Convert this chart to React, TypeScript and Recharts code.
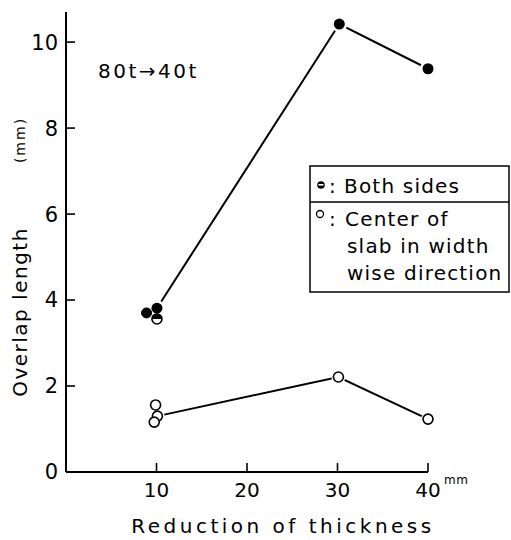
import React from "react";
import { ScatterChart, Scatter, XAxis, YAxis } from "recharts";

const xTicks = [10, 20, 30, 40];
const yTicks = [0, 2, 4, 6, 8, 10];

const bothSidesLine = [
  { x: 10.05, y: 3.81 },
  { x: 30.2, y: 10.42 },
  { x: 40, y: 9.38 },
];
const bothSidesExtra = [{ x: 8.9, y: 3.7 }];
const bothSidesHalf = [{ x: 10.05, y: 3.56 }];

const centerLine = [
  { x: 10.1, y: 1.3 },
  { x: 30.1, y: 2.21 },
  { x: 40, y: 1.23 },
];
const centerExtra = [
  { x: 9.9, y: 1.56 },
  { x: 9.75, y: 1.16 },
];

const FONT = "'DejaVu Sans', sans-serif";

const FilledDot = (p: any) => (
  <circle cx={p.cx} cy={p.cy} r={5} fill="#000" stroke="#000" strokeWidth={1} />
);
const FilledRingDot = (p: any) => (
  <g>
    <circle cx={p.cx} cy={p.cy} r={8} fill="#fff" />
    <circle cx={p.cx} cy={p.cy} r={5.5} fill="#000" />
  </g>
);
const OpenDot = (p: any) => (
  <circle cx={p.cx} cy={p.cy} r={5} fill="#fff" stroke="#000" strokeWidth={1.6} />
);
const OpenRingDot = (p: any) => (
  <g>
    <circle cx={p.cx} cy={p.cy} r={7} fill="#fff" />
    <circle cx={p.cx} cy={p.cy} r={5} fill="#fff" stroke="#000" strokeWidth={1.6} />
  </g>
);
const HalfDot = (p: any) => (
  <g>
    <circle cx={p.cx} cy={p.cy} r={5} fill="#fff" stroke="#000" strokeWidth={1.6} />
    <path
      d={`M ${p.cx - 5} ${p.cy} A 5 5 0 0 1 ${p.cx + 5} ${p.cy} Z`}
      fill="#000"
    />
  </g>
);

export default function App() {
  return (
    <div style={{ position: "absolute", left: 0, top: 0, width: 511, height: 540, background: "#fff" }}>
      <ScatterChart
        width={511}
        height={540}
        margin={{ top: 12, right: 83, bottom: 0, left: 0 }}
      >
        <XAxis
          type="number"
          dataKey="x"
          domain={[0, 40]}
          ticks={xTicks}
          tickSize={-9}
          tickMargin={20}
          height={68}
          axisLine={{ stroke: "#000", strokeWidth: 2 }}
          tickLine={{ stroke: "#000", strokeWidth: 1.6 }}
          tick={{ fill: "#000", fontSize: 20, fontFamily: FONT }}
        />
        <YAxis
          type="number"
          dataKey="y"
          domain={[0, 10.7]}
          ticks={yTicks}
          tickSize={-9}
          tickMargin={17}
          width={66}
          axisLine={{ stroke: "#000", strokeWidth: 2 }}
          tickLine={{ stroke: "#000", strokeWidth: 1.6 }}
          tick={{ fill: "#000", fontSize: 21, fontFamily: FONT }}
        />
        <Scatter
          data={bothSidesLine}
          line={{ stroke: "#000", strokeWidth: 2 }}
          shape={FilledRingDot}
          isAnimationActive={false}
        />
        <Scatter data={bothSidesExtra} shape={FilledDot} isAnimationActive={false} />
        <Scatter data={bothSidesHalf} shape={HalfDot} isAnimationActive={false} />
        <Scatter
          data={centerLine}
          line={{ stroke: "#000", strokeWidth: 2 }}
          shape={OpenRingDot}
          isAnimationActive={false}
        />
        <Scatter data={centerExtra} shape={OpenDot} isAnimationActive={false} />
      </ScatterChart>
      <svg
        width={511}
        height={540}
        style={{ position: "absolute", left: 0, top: 0, pointerEvents: "none" }}
        fontFamily={FONT}
      >
        <text x={98} y={78} fontSize={20} letterSpacing={2.5} fill="#000">
          80t→40t
        </text>
        <text
          transform="translate(25,140) rotate(-90)"
          textAnchor="middle"
          fontSize={14}
          letterSpacing={2}
          fill="#000"
        >
          (mm)
        </text>
        <text
          transform="translate(27,312) rotate(-90)"
          textAnchor="middle"
          fontSize={20}
          letterSpacing={1.5}
          fill="#000"
        >
          Overlap length
        </text>
        <text x={283} y={533} textAnchor="middle" fontSize={20} letterSpacing={3.5} fill="#000">
          Reduction of thickness
        </text>
        <text x={444} y={484} fontSize={12} letterSpacing={0.5} fill="#000">
          mm
        </text>
        <rect x={310} y={166} width={199} height={126} fill="#fff" stroke="#000" strokeWidth={1.5} />
        <line x1={310} y1={202} x2={509} y2={202} stroke="#000" strokeWidth={1.5} />
        <circle cx={321} cy={185} r={3.8} fill="#000" />
        <rect x={318.5} y={184} width={5} height={1.6} fill="#fff" />
        <text x={329} y={193} fontSize={20} fill="#000">:</text>
        <text x={344} y={193} fontSize={20} letterSpacing={1.2} fill="#000">Both sides</text>
        <circle cx={320} cy={214} r={3.5} fill="#fff" stroke="#000" strokeWidth={1.3} />
        <text x={329} y={226} fontSize={20} fill="#000">:</text>
        <text x={345} y={226} fontSize={20} letterSpacing={1.2} fill="#000">Center of</text>
        <text x={347} y={253} fontSize={20} letterSpacing={1.2} fill="#000">slab in width</text>
        <text x={347} y={280} fontSize={20} letterSpacing={1.2} fill="#000">wise direction</text>
      </svg>
    </div>
  );
}
